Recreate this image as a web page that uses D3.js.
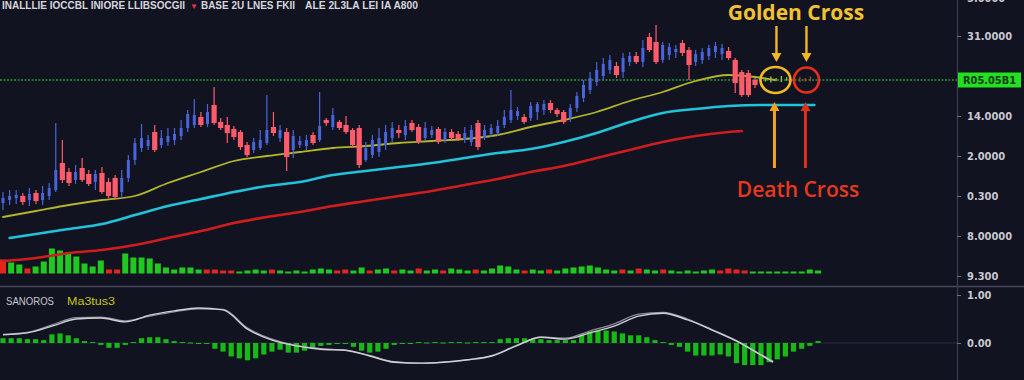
<!DOCTYPE html>
<html>
<head>
<meta charset="utf-8">
<script src="https://cdn.jsdelivr.net/npm/d3@7"></script>
<style>
html, body { margin: 0; padding: 0; background: #121320; overflow: hidden; }
svg { display: block; }
text { font-family: "Liberation Sans", Arial, sans-serif; }
</style>
</head>
<body>
<svg id="chart" width="1024" height="380"></svg>
<script>
// ---- price candles (one per session) ----
let candleOpen = [
  24.25,25,25.5,26,25,26.75,25,26,27.5,34.25,
  32,30,33,31.5,29.5,31.75,29.5,30.5,27,30.5,
  35,38,38.5,42,38.75,39.5,40,41,43,43.75,
  45.75,44,48.75,44.5,43.75,42.75,42,38.75,37.5,38,
  39.25,43.25,40.5,42,37.5,38.75,38.5,41.25,40,45,
  43.25,44.5,43.75,42.5,43,35,36.25,37,38.75,40.5,
  42.5,41.25,44.25,43.25,40.5,41.25,42.75,40,42,41.5,
  40,39.5,44.25,40.5,41.5,41.75,43.75,45,46,45.75,
  45.5,47,47.5,49.25,47.5,47,45.5,48,50.5,52.5,
  54.5,56,57.5,58.5,57,59.5,61,59.5,65.75,64.5,
  60,61.25,62,64.25,62.5,59.5,60,61,62,61.5,
  62.25,60,57,56.75,55
]
let candleClose = [
  25.5,26,26.25,24.5,26.5,24.75,26.75,28,32.5,30,
  29.25,32,30,29,31.5,27,26,25.75,30.5,35,
  39.25,40.5,40,37.5,40.5,41,41.5,43,46.5,46.25,
  43.75,47,44.25,43,41.75,40.75,38.25,36.25,39.5,40,
  42.5,41.75,42.5,35.75,41,39.75,40,39.25,43.5,44.25,
  46.25,43,42,38.75,33.75,38,40,40.5,42,43,
  41.75,43.5,42.5,39.5,43,42.5,39.5,42,40.5,40.25,
  41.75,42.5,38.25,42.5,43,43.5,45.75,47.5,47.25,44.5,
  48.5,49,49,47.5,46.5,44.5,48,51,53.75,55.5,
  57.5,59,60,56.25,60.5,61,59.5,63,62.5,59.5,
  63.75,63.25,62.75,61.75,58.75,61.5,62,63,63.5,63,
  60.5,54.25,51.25,51.25,53.75
]
let candleHigh = [
  27,27.5,27.5,26.75,28,27.5,28.5,29.25,44.25,40,
  33,33.75,35.5,32.5,32.5,33.25,30.5,31.25,32.5,36.25,
  40.5,44,41.25,43.75,42.5,43,43,45,47.5,50.25,
  47,49,53.25,45.5,45.75,43.5,42.5,39.5,40.5,42.5,
  51.25,47,43.75,43,42.5,41,41.25,42,52,45.5,
  48,45,46,43,43.75,39.5,41.25,43,43.75,44.5,
  43.75,45,45,44,44.5,43.5,43.25,43,42.75,42.25,
  43.25,43.75,45,43.75,44,45,47.5,52.5,48.25,46.5,
  49.5,49.5,50,50,48,47.5,49,52,55,57,
  59.5,60.5,61.25,59.5,61.75,62,62,65,66.75,68.75,
  64.5,64.25,63.75,65,63.25,62.5,63,63.75,64.5,64,
  63.25,60.5,57.5,57.5,55.5
]
let candleLow = [
  22.5,23.75,24,23.75,23.5,24,23.75,25,27,29.25,
  28.5,29,29.5,28.5,27.5,26.5,25.5,25.25,25.5,29.5,
  33.75,37,37.5,37,38,38.5,38.75,40,42,43,
  43.25,43.25,43.75,42.5,39.25,40,37.5,35.75,36.75,37.5,
  38.75,41,39.5,32.25,35.5,38,37.5,38.75,39.5,43.5,
  42.5,42.5,41.5,38,33,34.5,35.5,35.75,37.5,39.5,
  40.5,40,42,39,39.75,40.5,39,39.25,40,39.75,
  39.25,38.5,37.5,40,40.75,41,43,44.25,45,44,
  44.75,45,46.25,46.75,45.75,44,44.5,47,49.5,51.5,
  53.5,55,56.5,55.5,55.5,58.5,59,58.25,62,59,
  59.25,60,60.5,61,55,58.5,59,60,60.5,60,
  60,51.75,50.75,50.75,53
]
// small candles inside the cross markers
let tailIdx  = [115.6,116.4,117.2,118,118.8,120.8,121.6,122.4]
let tailHigh = [55.6,55.9,55.5,56,55.7,55.8,55.5,55.9]
let tailLow  = [54.6,54.4,54.7,54.5,54.8,54.5,54.6,54.7]

// ---- moving averages (candle index, price) ----
let fastIdx = [0,5,10,15,20,25,30,35,40,45,50,55,60,65,70,75,80,85,90,95,100,105,110,114,117]
let fastVal = [20.75,22.25,23.75,25,26,29.25,32,34.75,36,37,38,38.5,39.25,39.75,40.25,41.25,43.25,45,47,49.75,52,54.75,56.25,55.75,55]
let midIdx = [1,5,10,15,20,25,30,35,40,45,50,55,60,65,70,75,80,85,90,95,100,105,110,115,123]
let midVal = [15.5,16.5,17.75,19,21.25,23.5,25.25,27,28.5,29.5,31.25,32.25,33.25,34.25,35.5,36.75,37.75,39.5,41.75,44.5,46.75,47.75,48.5,48.75,48.75]
let slowIdx = [0,5,10,15,20,25,30,35,40,45,50,55,60,65,70,75,80,85,90,95,100,105,110,112]
let slowVal = [9.75,10.5,11.75,12.5,13.75,15.5,17.25,19.25,20.75,22,23.5,24.75,26,27.25,28.75,30.25,32,33.5,35.5,37.5,39.5,41,42,42.25]

// ---- volume bars ----
let volume = [
  14,11,9,5,7,12,25,23,21,17, 10,7,13,4,4,20,16,16,15,10,
  6,4,6,6,4,4,4,3,3,2, 3,4,3,4,3,2,3,2,4,5,
  4,3,4,3,6,3,4,5,3,4, 3,5,3,4,3,5,4,3,4,3,
  5,8,7,4,3,4,3,4,3,5, 6,7,8,6,4,3,4,3,5,4,
  3,4,3,2,3,2,3,4,3,5, 4,3,2,2,2,2,2,2,2,4,
  3
]
let volumeDir = 'rggrgggggg' + 'gggrrggggg' + 'gggggrrrrg' + 'gggrgggggg' + 'grrggrggrg' +
                'grggrgggrg' + 'ggggrggrgg' + 'ggggggrgrg' + 'grggggggrr' + 'rrgggggggg' + 'g'

// ---- MACD panel ----
let macdHist = [
  0.10,0.10,0.10,0.08,0.08,0.06,0.18,0.20,0.16,0.10,
  0.04,0.02,-0.04,-0.10,-0.10,-0.04,0.02,0.10,0.12,0.12,
  0.08,0.04,0.02,0.01,-0.01,-0.02,-0.12,-0.18,-0.28,-0.32,
  -0.36,-0.32,-0.24,-0.18,-0.14,-0.20,-0.20,-0.16,-0.12,-0.06,
  -0.04,-0.02,-0.02,-0.08,-0.16,-0.20,-0.18,-0.12,-0.04,-0.02,
  -0.01,0.02,0.01,0.02,0.01,0.02,0.02,0.01,0.02,0.02,
  0.02,0.08,0.10,0.10,0.10,0.08,0.08,0.06,0.06,0.06,
  0.06,0.18,0.24,0.26,0.26,0.24,0.20,0.16,0.16,0.12,
  0.06,0.02,-0.04,-0.08,-0.18,-0.26,-0.26,-0.26,-0.24,-0.28,
  -0.42,-0.46,-0.46,-0.46,-0.40,-0.34,-0.28,-0.18,-0.12,-0.06,
  0.04
]
let macdIdx = [0,3,6,9,12,15,18,21,24,27,30,33,36,39,42,45,48,51,54,57,60,63,66,69,72,75,78,81,84,87,90,93,94.5]
let macdVal = [0.17,0.21,0.35,0.50,0.52,0.44,0.58,0.67,0.73,0.69,0.29,0.06,-0.06,-0.13,-0.15,-0.27,-0.40,-0.42,-0.40,-0.35,-0.27,-0.06,0.12,0.08,0.21,0.35,0.56,0.62,0.48,0.27,0.04,-0.25,-0.40]
let signalVal = [0.18,0.22,0.38,0.53,0.54,0.46,0.56,0.65,0.71,0.70,0.31,0.08,-0.05,-0.12,-0.15,-0.26,-0.39,-0.42,-0.40,-0.35,-0.26,-0.05,0.12,0.10,0.25,0.40,0.60,0.64,0.50,0.28,0.05,-0.24,-0.38]

// ---- axis labels / annotations ----
let priceTicks = [6,16,26,36,46,66,75.5]
let priceTickLabels = ['9.300','8.00000','0.300','2.0000','14.0000','31.0000','5.0000']
let macdTicks = [1, 0]
let macdTickLabels = ['1.00','0.00']
let lastPrice = 55
let lastPriceLabel = 'R05.05B1'
let crossIdx = [117.1, 121.8]
let titleParts = ['INALLLIE IOCCBL  INIORE LLIBSOCGII', 'BASE 2U  LNES FKII', 'ALE 2L3LA LEI IA A800']
let legendParts = ['SANOROS', 'Ma3tus3']

let svg = d3.select('#chart')
let axisX = 957

let xC = d3.scaleLinear().domain([0, 114]).range([3, 755])
let xB = d3.scaleLinear().domain([0, 100]).range([3, 818])
let yP = d3.scaleLinear().domain([6, 75]).range([276, 0])
let yV = d3.scaleLinear().domain([0, 30]).range([273.5, 243.5])
let yM = d3.scaleLinear().domain([-1, 1]).range([391, 295])

let bull = '#4965de', bear = '#ff5b6b'

svg.append('rect').attr('width', 1024).attr('height', 380).attr('fill', '#121320')

// panel separator + macd zero line
svg.append('line').attr('x1', 0).attr('x2', 1024).attr('y1', 286.5).attr('y2', 286.5)
   .attr('stroke', '#44465a').attr('stroke-width', 1.5)
svg.append('line').attr('x1', 0).attr('x2', axisX).attr('y1', yM(0)).attr('y2', yM(0))
   .attr('stroke', '#2a2c3c').attr('stroke-width', 1)

// last price dotted line
svg.append('line').attr('x1', 0).attr('x2', axisX).attr('y1', yP(lastPrice)).attr('y2', yP(lastPrice))
   .attr('stroke', '#1f9a2c').attr('stroke-width', 1.6).attr('stroke-dasharray', '2,1.5')

// volume
svg.append('g').selectAll('rect').data(volume).enter().append('rect')
   .attr('x', (v, i) => xB(i) - 3)
   .attr('width', 6)
   .attr('y', v => yV(v))
   .attr('height', v => yV(0) - yV(v))
   .attr('fill', (v, i) => volumeDir[i] === 'g' ? '#20c820' : '#e2281e')

// moving averages
let maLine = d3.line().x(d => xC(d[0])).y(d => yP(d[1])).curve(d3.curveMonotoneX)
let drawMa = (idx, vals, color, width) => {
  svg.append('path')
     .datum(idx.map((k, i) => [k, vals[i]]))
     .attr('d', maLine)
     .attr('fill', 'none')
     .attr('stroke', color)
     .attr('stroke-width', width)
     .attr('stroke-linecap', 'round')
}
drawMa(slowIdx, slowVal, '#cf1d1d', 2.6)
drawMa(midIdx, midVal, '#22c3da', 2.6)
drawMa(fastIdx, fastVal, '#b3b52a', 1.8)

// candles
let candles = candleOpen.map((o, i) => ({
  i: i, o: o, c: candleClose[i],
  h: Math.max(candleHigh[i], o, candleClose[i]),
  l: Math.min(candleLow[i], o, candleClose[i])
}))
let cg = svg.append('g')
cg.selectAll('line').data(candles).enter().append('line')
  .attr('x1', d => xC(d.i)).attr('x2', d => xC(d.i))
  .attr('y1', d => yP(d.h)).attr('y2', d => yP(d.l))
  .attr('stroke', d => d.c >= d.o ? bull : bear)
  .attr('stroke-width', 1.2)
cg.selectAll('rect').data(candles).enter().append('rect')
  .attr('x', d => xC(d.i) - (d.c >= d.o ? 1.5 : 2.6))
  .attr('width', d => d.c >= d.o ? 3 : 5.2)
  .attr('y', d => yP(Math.max(d.o, d.c)))
  .attr('height', d => Math.max(1.5, Math.abs(yP(d.o) - yP(d.c))))
  .attr('fill', d => d.c >= d.o ? bull : bear)

// tiny candles inside markers
svg.append('g').selectAll('line').data(tailIdx).enter().append('line')
   .attr('x1', d => xC(d)).attr('x2', d => xC(d))
   .attr('y1', (d, i) => yP(tailHigh[i])).attr('y2', (d, i) => yP(tailLow[i]))
   .attr('stroke', d => d < 120 ? '#9fbf3a' : '#b8402a')
   .attr('stroke-width', 1.3)

// golden / death cross markers
let cy = yP(lastPrice)
let gx = xC(crossIdx[0]), dx = xC(crossIdx[1])
svg.append('ellipse').attr('cx', gx).attr('cy', cy).attr('rx', 15).attr('ry', 13)
   .attr('fill', 'none').attr('stroke', '#f2b81f').attr('stroke-width', 2.6)
svg.append('circle').attr('cx', dx).attr('cy', cy).attr('r', 12.5)
   .attr('fill', 'none').attr('stroke', '#ea2f1c').attr('stroke-width', 2.6)

let arrow = (x, y1, y2, color, w) => {
  let dir = y2 > y1 ? 1 : -1
  svg.append('line').attr('x1', x).attr('x2', x).attr('y1', y1).attr('y2', y2 - dir * 7)
     .attr('stroke', color).attr('stroke-width', w)
  svg.append('path')
     .attr('d', `M${x - 5},${y2 - dir * 9}L${x + 5},${y2 - dir * 9}L${x},${y2}Z`)
     .attr('fill', color)
}
arrow(gx + 1, cy - 54, cy - 18, '#f2b81f', 2.4)
arrow(dx, cy - 54, cy - 18, '#f2b81f', 2.4)
arrow(gx - 1, cy + 88, cy + 22, '#f5a11f', 3)
arrow(dx - 1, cy + 88, cy + 22, '#e0301c', 3)

svg.append('text').attr('x', (gx + dx) / 2 + 5).attr('y', 20)
   .attr('text-anchor', 'middle')
   .style('font-family', '"Open Sans", "Noto Sans", sans-serif')
   .style('font-size', '21px').style('font-weight', 700)
   .attr('fill', '#f2c233').text('Golden Cross')
svg.append('text').attr('x', (gx + dx) / 2 + 7).attr('y', 197)
   .attr('text-anchor', 'middle')
   .style('font-family', '"Open Sans", "Noto Sans", sans-serif')
   .style('font-size', '21px').style('font-weight', 600)
   .attr('fill', '#e6391d').text('Death Cross')

// macd histogram + lines
svg.append('g').selectAll('rect').data(macdHist).enter().append('rect')
   .attr('x', (v, i) => xB(i) - 2.6)
   .attr('width', 5.2)
   .attr('y', v => yM(Math.max(0, v)))
   .attr('height', v => Math.max(1, Math.abs(yM(v) - yM(0))))
   .attr('fill', '#18b818')

let mLine = d3.line().x(d => xB(d[0])).y(d => yM(d[1])).curve(d3.curveMonotoneX)
svg.append('path').datum(macdIdx.map((k, i) => [k, signalVal[i]])).attr('d', mLine)
   .attr('fill', 'none').attr('stroke', '#8e8e9a').attr('stroke-width', 1.3)
svg.append('path').datum(macdIdx.map((k, i) => [k, macdVal[i]])).attr('d', mLine)
   .attr('fill', 'none').attr('stroke', '#cfcfd6').attr('stroke-width', 1.4)

// right axis
svg.append('line').attr('x1', axisX + 0.5).attr('x2', axisX + 0.5).attr('y1', 0).attr('y2', 380)
   .attr('stroke', '#3c3e50').attr('stroke-width', 1.2)

let styleAxis = g => {
  g.select('.domain').remove()
  g.selectAll('.tick line').attr('stroke', '#70727f')
  g.selectAll('.tick text').attr('fill', '#c9c9d2')
   .style('font-family', '"DejaVu Sans Condensed", "DejaVu Sans", sans-serif')
   .style('font-size', '11px').style('font-weight', 600)
}
svg.append('g').attr('transform', `translate(${axisX},0)`)
   .call(d3.axisRight(yP).tickValues(priceTicks).tickSize(4).tickPadding(6)
         .tickFormat((d, i) => priceTickLabels[i]))
   .call(styleAxis)
svg.append('g').attr('transform', `translate(${axisX},0)`)
   .call(d3.axisRight(yM).tickValues(macdTicks).tickSize(4).tickPadding(6)
         .tickFormat((d, i) => macdTickLabels[i]))
   .call(styleAxis)

// last price tag
svg.append('rect').attr('x', axisX + 1).attr('y', cy - 7.5).attr('width', 63).attr('height', 15)
   .attr('fill', '#22e022')
svg.append('text').attr('x', axisX + 6).attr('y', cy + 4)
   .style('font-family', '"DejaVu Sans Condensed", "DejaVu Sans", sans-serif')
   .style('font-size', '10.5px').style('font-weight', 700)
   .attr('fill', '#0c3a0c').attr('textLength', 53).attr('lengthAdjust', 'spacingAndGlyphs')
   .text(lastPriceLabel)

// title (top, partly cut)
let title = svg.append('g').attr('fill', '#d6d6de')
  .style('font-family', '"DejaVu Sans Condensed", "DejaVu Sans", sans-serif')
  .style('font-size', '10px').style('font-weight', 700)
title.append('text').attr('x', 2).attr('y', 8.5).attr('textLength', 183).attr('lengthAdjust', 'spacingAndGlyphs').text(titleParts[0])
title.append('text').attr('x', 190).attr('y', 8.5).attr('fill', '#e8324a').style('font-size', '8px').text('▼')
title.append('text').attr('x', 201).attr('y', 8.5).attr('textLength', 94).attr('lengthAdjust', 'spacingAndGlyphs').text(titleParts[1])
title.append('text').attr('x', 305).attr('y', 8.5).attr('textLength', 113).attr('lengthAdjust', 'spacingAndGlyphs').text(titleParts[2])

// macd legend
svg.append('text').attr('x', 6).attr('y', 305).attr('fill', '#c6c6ce')
   .style('font-size', '10px').attr('textLength', 48).attr('lengthAdjust', 'spacingAndGlyphs')
   .text(legendParts[0])
svg.append('text').attr('x', 67).attr('y', 305).attr('fill', '#c3c322')
   .style('font-size', '10px').attr('textLength', 48).attr('lengthAdjust', 'spacingAndGlyphs')
   .text(legendParts[1])
</script>
</body>
</html>
